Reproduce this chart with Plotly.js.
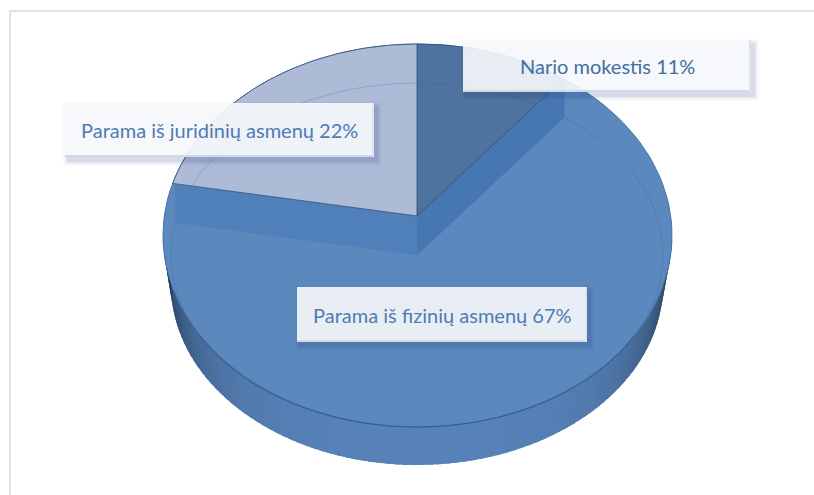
<!DOCTYPE html>
<html><head><meta charset="utf-8">
<script src="https://cdn.plot.ly/plotly-3.0.0.min.js"></script>
<style>html,body{margin:0;padding:0;background:#fff}#c{width:814px;height:495px}</style>
</head><body><div id="c"></div>
<script>
// Data
const categories = ['Nario mokestis', 'Parama iš fizinių asmenų', 'Parama iš juridinių asmenų'];
const values = [11, 67, 22];

// Styles per slice and label placement (pixel space of the axes)
const sliceColors = ['#4F739F', '#5B89BD', '#ADBBD6'];
const labelBoxes = [[463, 40, 751, 92], [297, 287, 587, 342], [65, 103, 374, 157]];

// Ellipses of the tilted disc
const upper = {cx: 417, cy: 216, rx: 246, ry: 172};
const lower = {cx: 417, cy: 255, rx: 246, ry: 172};
const outer = {cx: 417.5, cy: 235.5, rx: 254.5, ry: 191.5};
const floor_ = {cx: 417, cy: 285, rx: 246, ry: 180};
const apexU = [upper.cx, upper.cy], apexL = [lower.cx, lower.cy];

const rad = d => d * Math.PI / 180;
const pt = (e, a) => [e.cx + e.rx * Math.sin(rad(a)), e.cy - e.ry * Math.cos(rad(a))];
function arc(e, a0, a1, n = 80) {
  const out = [];
  for (let i = 0; i <= n; i++) out.push(pt(e, a0 + (a1 - a0) * i / n));
  return out;
}
// slight perspective foreshortening of the back right quadrant
const view = a => (a > 0 && a < 90) ? a - 2.85 * Math.sin(rad(2 * a)) : a;
function hitAngle(e, p, target) {
  const dx = (target[0] - p[0]) / e.rx, dy = (target[1] - p[1]) / e.ry;
  const ox = (p[0] - e.cx) / e.rx, oy = (p[1] - e.cy) / e.ry;
  const A = dx * dx + dy * dy, B = 2 * (ox * dx + oy * dy), C = ox * ox + oy * oy - 1;
  const t = (-B + Math.sqrt(B * B - 4 * A * C)) / (2 * A);
  const x = ox + dx * t, y = oy + dy * t;
  let a = Math.atan2(x, -y) * 180 / Math.PI;
  return a < -0.001 ? a + 360 : Math.max(a, 0);
}
function poly(points, fill, lineColor, lineWidth, name) {
  return {
    type: 'scatter', mode: 'lines', x: points.map(p => p[0]), y: points.map(p => p[1]),
    fill: 'toself', fillcolor: fill, hoverinfo: 'skip', showlegend: false, name: name || '',
    line: {color: lineColor || fill, width: lineWidth === undefined ? 1 : lineWidth}
  };
}
function stroke(points, color, width) {
  return {
    type: 'scatter', mode: 'lines', x: points.map(p => p[0]), y: points.map(p => p[1]),
    hoverinfo: 'skip', showlegend: false, line: {color: color, width: width}
  };
}
function mix(c1, c2, t) {
  return 'rgb(' + c1.map((v, i) => Math.round(v + (c2[i] - v) * t)).join(',') + ')';
}

// Slice boundaries in degrees, clockwise from the top
const total = values.reduce((a, b) => a + b, 0);
let acc = 0;
const bounds = [0].concat(values.map(v => (acc += v) / total * 360)).map(view);

const traces = [];

// Side wall, shaded toward the silhouette; strips overlap so no seams show
const step = 2;
for (let a = 90; a < 270; a += step) {
  const mid = a + step / 2;
  const s = Math.abs(Math.cos(rad(mid - 180)));
  const t = Math.pow(1 - s, 1.8);
  const c = mix([86, 130, 184], [36, 54, 82], Math.min(1, t * 1.1));
  const end = Math.min(a + step + 1.5, 270);
  traces.push(poly([pt(outer, a), pt(outer, end), pt(floor_, end), pt(floor_, a)], c, c, 0));
}

// Body of the large slice with its rim
traces.push(poly(arc(outer, 0, 360, 160), sliceColors[1], '#4673A8', 1, categories[1]));

// Inner walls exposed beside the large slice
traces.push(poly([apexU, pt(upper, bounds[1]), pt(lower, bounds[1]), apexL], '#4777B3', '#4777B3', 0.5));
traces.push(poly([apexU, pt(upper, bounds[2]), pt(lower, bounds[2]), apexL], '#5080BA', '#5080BA', 0.5));

// Receded slices
[[0, 1], [2, 3]].forEach(([si, b]) => {
  const ci = si;
  const from = hitAngle(outer, apexU, pt(upper, bounds[b === 1 ? 0 : 2]));
  let to = hitAngle(outer, apexU, pt(upper, b === 1 ? bounds[1] : 0));
  if (to <= from) to += 360;
  traces.push(poly([apexU].concat(arc(outer, from, to)).concat([apexU]), sliceColors[ci], 'rgba(47,78,122,0.75)', 1, categories[ci]));
});

// Bevel lines
const faint = 'rgba(52,88,140,0.24)';
traces.push(stroke(arc(lower, bounds[1], bounds[2], 120), faint, 1));
const lineFrom = hitAngle(lower, apexU, pt(upper, bounds[2]));
const lineTo = hitAngle(lower, apexU, pt(upper, bounds[1])) + 360;
traces.push(stroke(arc(lower, lineFrom, lineTo), faint, 1));
traces.push(stroke(arc(lower, 118, 242, 80), 'rgba(48,88,140,0.85)', 1));

// Label boxes
const shapes = [
  {type: 'line', xref: 'x', yref: 'y', x0: 9, x1: 814, y0: 11, y1: 11, line: {color: '#E2E2E2', width: 2}, layer: 'below'},
  {type: 'line', xref: 'x', yref: 'y', x0: 10, x1: 10, y0: 10, y1: 495, line: {color: '#E2E2E2', width: 2}, layer: 'below'}
];
labelBoxes.forEach(b => {
  [[5, 0.025], [3.5, 0.04], [2, 0.05], [1, 0.07]].forEach(([g, o]) => {
    shapes.push({type: 'rect', xref: 'x', yref: 'y', x0: b[0] - g + 3, x1: b[2] + g + 3, y0: b[1] - g + 4, y1: b[3] + g + 4,
      fillcolor: 'rgba(34,62,110,' + o + ')', line: {width: 0}, layer: 'above'});
  });
  shapes.push({type: 'rect', xref: 'x', yref: 'y', x0: b[0], x1: b[2], y0: b[1], y1: b[3],
    fillcolor: 'rgba(250,251,253,0.90)', line: {width: 0}, layer: 'above'});
  shapes.push({type: 'line', xref: 'x', yref: 'y', x0: b[0], x1: b[2], y0: b[3] - 1, y1: b[3] - 1, line: {color: '#CFDAE9', width: 2}, layer: 'above'});
  shapes.push({type: 'line', xref: 'x', yref: 'y', x0: b[2] - 1, x1: b[2] - 1, y0: b[1], y1: b[3], line: {color: '#DCE4EF', width: 2}, layer: 'above'});
});

const annotations = categories.map((c, i) => ({
  xref: 'x', yref: 'y', x: (labelBoxes[i][0] + labelBoxes[i][2]) / 2, y: (labelBoxes[i][1] + labelBoxes[i][3]) / 2,
  text: c + ' ' + values[i] + '%', showarrow: false,
  font: {family: 'Lato, "Open Sans", sans-serif', size: 20, color: i === 0 ? '#446E9F' : '#4E7BB5'}
}));

Plotly.newPlot('c', traces, {
  width: 814, height: 495, margin: {l: 0, r: 0, t: 0, b: 0},
  paper_bgcolor: '#fff', plot_bgcolor: '#fff', showlegend: false,
  xaxis: {range: [0, 814], visible: false, fixedrange: true},
  yaxis: {range: [495, 0], visible: false, fixedrange: true},
  shapes: shapes, annotations: annotations, hovermode: false
}, {displayModeBar: false, staticPlot: true});
</script>
</body></html>
